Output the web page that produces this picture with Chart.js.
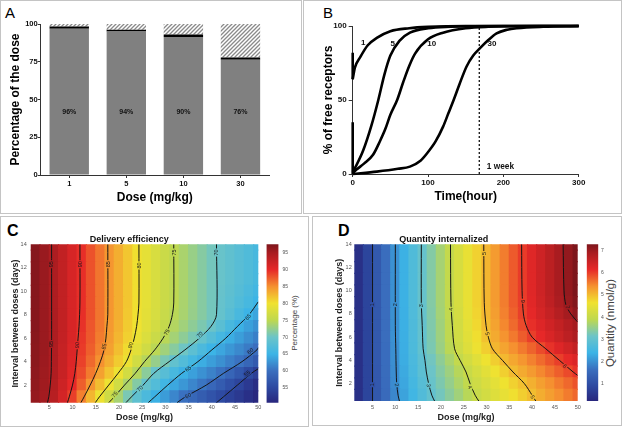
<!DOCTYPE html>
<html><head><meta charset="utf-8">
<script src="https://cdn.jsdelivr.net/npm/chart.js@4"></script>
<style>
body{margin:0;width:622px;height:430px;background:#fff;position:relative;overflow:hidden;font-family:'Liberation Sans',Arial,sans-serif}
.panel{position:absolute;border:1px solid #c4c4c4;box-sizing:border-box}
canvas{position:absolute}
.lt{position:absolute;font-size:15px;line-height:15px;color:#000}
.rot{position:absolute;white-space:nowrap;transform:translate(-50%,-50%) rotate(-90deg);color:#444}
</style></head>
<body>
<div class="panel" style="left:0;top:0;width:302px;height:214px"></div>
<div class="panel" style="left:303px;top:0;width:319px;height:214px"></div>
<div class="panel" style="left:0;top:216px;width:309px;height:211px"></div>
<div class="panel" style="left:312px;top:216px;width:310px;height:210px"></div>
<div class="lt" style="left:5px;top:5px">A</div>
<div class="lt" style="left:323px;top:5px">B</div>
<div class="lt" style="left:7px;top:223px;font-weight:bold;font-size:16px">C</div>
<div class="lt" style="left:338px;top:223px;font-weight:bold;font-size:16px">D</div>
<div class="rot" style="left:294px;top:323px;font-size:8px">Percentage (%)</div>
<div class="rot" style="left:610px;top:323px;font-size:11.5px">Quantity (nmol/g)</div>
<script>
const FONT = "'Liberation Sans', Arial, sans-serif";
Chart.defaults.font.family = FONT;
Chart.defaults.animation = false;

// ---------- Panel A data ----------
const doseCats = ['1','5','10','30'];
const internalizedPct = [96.9, 95.0, 91.4, 76.4];
const blackPct = [1.4, 1.2, 1.6, 1.4];
const hatchedPct = [1.7, 3.8, 7.0, 22.2];
const barText = ['96%','94%','90%','76%'];
const barTextLevel = 41.5;
const aTicks = [0,25,50,75,100];

// ---------- Panel B data ----------
const t1 = [0,3,10,20,32,50,75,100,150,300];
const r1 = [64,72,79,87,92,96.5,98.5,99.4,100,100];
const t5 = [0,5,14,25,34,42,50,62,76,100,130,200,300];
const r5 = [1.5,6,16,33,50,67,80,90,95.5,98.5,99.5,100,100];
const t10 = [0,5,15,27,36,43,50,59,67,75,83,100,120,150,180,250,300];
const r10 = [0.5,3,7,13,22,30,40,50,62,73,81.5,91,95.5,98.5,99.5,100,100];
const t30 = [0,32,60,76,90,98,110,120,127,134,142,151,160,169,180,191,205,218,253,300];
const r30 = [0,1.6,3.5,5,9,13.5,22,32,41,50,61,72.5,80,85,90.5,95,97.5,98.5,99.5,100];
const startSegA = [[0,82],[0,64]];
const startSegB = [[0,35],[0,0]];
const weekHour = 168;
const bTicksX = [0,100,200,300];
const bTicksY = [0,50,100];
const curveLabels = [{t:'1',x:14,y:88.7},{t:'5',x:53,y:88.3},{t:'10',x:105,y:88.3},{t:'30',x:185,y:88.3}];
const weekLabel = {t:'1 week',x:178,y:4.7};

// ---------- Panels C/D grid ----------
const doseCols = [2,4,6,8,10,12,14,16,18,20,22,24,26,28,30,32,34,36,38,40,42,44,46,48,50];
const dayRows = [1,2,3,4,5,6,7,8,9,10,11,12,13,14];
const heatTicksX = [5,10,15,20,25,30,35,40,45,50];
const heatTicksY = [2,4,6,8,10,12,14];

// Delivery efficiency (%) rows from 1 day (bottom) to 14 days (top)
const effTop = [97.0,95.9,94.6,93.0,91.3,89.7,88.0,86.3,84.7,83.2,81.7,80.2,78.9,77.5,76.2,74.9,73.8,72.7,71.6,70.5,69.6,68.8,67.9,67.1,66.3];
const efficiency = [
 [96.1,95.3,93.8,91.5,88.9,85.8,82.7,79.7,76.6,73.6,70.9,68.7,66.7,64.8,63.3,61.7,60.2,59.0,57.7,56.5,55.3,54.1,53.0,51.8,50.7],
 [96.4,95.5,94.2,92.1,90.0,87.4,84.8,82.3,79.7,76.8,74.0,71.5,69.2,67.4,65.5,64.1,62.9,61.7,60.5,59.1,57.6,56.1,54.6,53.1,51.6],
 [96.5,95.6,94.4,92.5,90.5,88.3,86.1,84.0,81.9,79.7,77.0,74.4,71.9,69.6,67.9,66.3,64.7,63.6,62.5,61.4,60.3,58.8,57.1,55.4,53.9],
 [96.7,95.7,94.5,92.6,90.7,88.8,86.9,85.0,83.2,81.4,79.5,76.9,74.5,72.6,70.8,69.0,67.4,65.8,64.5,63.4,62.4,61.3,60.3,58.9,57.4],
 [96.7,95.8,94.5,92.7,90.9,89.1,87.4,85.7,84.0,82.2,80.5,78.6,76.7,74.8,73.2,71.7,70.2,68.4,66.7,65.0,64.0,62.9,61.9,60.9,59.9],
 [96.8,95.8,94.6,92.8,91.1,89.3,87.7,86.0,84.3,82.7,81.1,79.4,77.8,76.2,74.7,73.4,72.1,70.8,69.4,67.6,65.9,64.5,63.4,62.3,61.2],
 [96.9,95.8,94.6,92.9,91.2,89.5,87.8,86.2,84.5,83.0,81.4,79.9,78.4,77.0,75.6,74.3,73.2,72.1,71.0,69.8,68.1,66.3,64.7,63.6,62.5],
 [96.9,95.8,94.6,93.0,91.3,89.7,88.0,86.3,84.7,83.2,81.6,80.1,78.7,77.4,76.0,74.7,73.7,72.6,71.6,70.5,69.3,67.9,66.4,65.0,63.9],
 [97.0,95.9,94.6,93.0,91.3,89.7,88.0,86.3,84.7,83.2,81.7,80.2,78.9,77.5,76.2,74.9,73.8,72.7,71.6,70.5,69.4,68.3,67.2,66.1,65.0],
 [97.0,95.9,94.6,93.0,91.3,89.7,88.0,86.3,84.7,83.2,81.7,80.2,78.9,77.5,76.2,74.9,73.8,72.7,71.6,70.5,69.5,68.6,67.6,66.7,65.7],
 effTop, effTop, effTop, effTop
];
const effRange = [50.6, 97.5];
const effBarTicks = [55,60,65,70,75,80,85,90,95];

// Quantity internalized (nmol/g)
const qTop = [0.4,0.8,1.2,1.6,2.0,2.35,2.7,3.05,3.36,3.67,3.98,4.26,4.53,4.81,5.07,5.31,5.55,5.80,6.03,6.25,6.47,6.69,6.91,7.11,7.3];
const quantity = [
 [0.4,0.8,1.18,1.54,1.89,2.19,2.46,2.73,3.0,3.21,3.42,3.63,3.84,4.04,4.20,4.36,4.52,4.68,4.84,5.0,5.14,5.28,5.42,5.56,5.7],
 [0.4,0.8,1.19,1.57,1.94,2.24,2.53,2.81,3.08,3.30,3.52,3.74,3.96,4.13,4.30,4.47,4.64,4.81,4.97,5.12,5.27,5.41,5.56,5.70,5.85],
 [0.4,0.8,1.19,1.58,1.96,2.27,2.58,2.88,3.14,3.37,3.60,3.83,4.05,4.24,4.44,4.63,4.83,5.02,5.17,5.32,5.47,5.62,5.77,5.92,6.08],
 [0.4,0.8,1.2,1.59,1.98,2.30,2.61,2.92,3.19,3.45,3.71,3.97,4.19,4.41,4.62,4.84,5.04,5.20,5.36,5.52,5.68,5.84,6.0,6.15,6.3],
 [0.4,0.8,1.2,1.59,1.98,2.32,2.65,2.98,3.28,3.57,3.86,4.12,4.36,4.60,4.84,5.06,5.23,5.40,5.57,5.74,5.91,6.09,6.26,6.43,6.6],
 [0.4,0.8,1.2,1.6,2.0,2.33,2.67,3.0,3.30,3.60,3.90,4.17,4.43,4.69,4.95,5.17,5.38,5.58,5.79,6.0,6.17,6.34,6.51,6.68,6.85],
 [0.4,0.8,1.2,1.6,2.0,2.34,2.68,3.02,3.32,3.62,3.92,4.20,4.47,4.74,5.01,5.24,5.47,5.69,5.92,6.11,6.28,6.45,6.61,6.78,6.95],
 [0.4,0.8,1.2,1.6,2.0,2.34,2.69,3.03,3.34,3.65,3.95,4.23,4.51,4.78,5.05,5.28,5.52,5.75,5.99,6.18,6.38,6.57,6.76,6.95,7.15],
 [0.4,0.8,1.2,1.6,2.0,2.35,2.7,3.05,3.36,3.67,3.98,4.26,4.53,4.81,5.07,5.31,5.55,5.80,6.01,6.23,6.44,6.66,6.87,7.07,7.25],
 qTop, qTop, qTop, qTop, qTop
];
const qRange = [0.2, 7.3];
const qBarTicks = [1,2,3,4,5,6,7];

// Contour lines [dose, days]
const effContours = [
 [[5.5,14],[5.5,9],[5.5,6],[5.45,4],[5.4,3],[5.2,2],[4.9,1],[4.6,0.5]],
 [[11.6,14],[11.6,9],[11.4,7],[11.2,6],[11.0,5],[10.8,4],[10.5,3],[10.0,2],[9.3,1],[8.9,0.5]],
 [[17.6,14],[17.6,8],[17.4,7],[17.2,6],[16.8,5],[16.0,4],[15.0,3],[13.8,2],[12.5,1],[11.8,0.5]],
 [[24.3,14],[24.3,9],[24.1,8],[23.8,7],[23.3,6],[22.6,5],[21.6,4],[19.8,3],[17.8,2],[15.8,1],[14.9,0.5]],
 [[31.8,14],[31.8,9],[31.5,8],[30.8,7],[29.5,6],[27.7,5],[25.5,4],[23.5,3],[21.2,2],[19.0,1],[17.8,0.5]],
 [[41,14],[41,8],[39.8,7],[37.3,6],[34.2,5],[30.8,4],[27.5,3],[25.2,2],[22.7,1],[21.5,0.5]],
 [[50,9.1],[48,8],[45.5,7],[43.0,6],[40.0,5],[37.0,4],[33.5,3],[30.5,2],[27.7,1],[26.3,0.5]],
 [[50,5.2],[49.7,5],[46.5,4],[42.5,3],[38.8,2],[34.3,1],[32.5,0.5]],
 [[50,3.4],[48.5,3],[45.5,2],[42.5,1],[41,0.5]]
];
const effLabels = [
 {t:'95',x:5.5,y:12.3,a:-90},{t:'95',x:5.45,y:5.5,a:-90},
 {t:'90',x:11.6,y:12.3,a:-90},{t:'90',x:11.0,y:5.4,a:-88},
 {t:'85',x:17.6,y:12.3,a:-90},{t:'85',x:16.8,y:5.3,a:-80},
 {t:'80',x:24.3,y:12.2,a:-90},{t:'80',x:22.5,y:5.4,a:-74},
 {t:'75',x:31.8,y:13.3,a:-90},{t:'75',x:30.3,y:6.5,a:-63},{t:'75',x:19.1,y:1.2,a:-47},
 {t:'70',x:41.0,y:13.3,a:-90},{t:'70',x:37.4,y:6.3,a:-45},{t:'70',x:24.5,y:1.7,a:-45},
 {t:'65',x:47.8,y:7.8,a:-45},{t:'65',x:34.9,y:3.4,a:-36},
 {t:'60',x:48.3,y:4.9,a:-38},{t:'60',x:34.9,y:1.1,a:-29},
 {t:'55',x:47.6,y:3.0,a:-38}
];
const qContours = [
 [[5,14],[5,0.5]],
 [[10,14],[10,7],[10.1,5],[10.2,3],[10.3,2],[10.6,1],[10.9,0.5]],
 [[15.7,14],[15.7,9],[15.9,7],[16.1,5],[16.5,4],[16.8,3],[17.3,2],[18.0,1],[18.6,0.5]],
 [[22.1,14],[22.2,9],[22.5,7],[23.0,5],[24.2,4],[25.5,3],[26.4,2],[27.5,1],[28.3,0.5]],
 [[29.4,14],[29.5,9],[29.9,7],[30.4,6],[31.3,5],[33.5,4],[35.8,3],[38.3,2],[40.0,1],[40.8,0.5]],
 [[37.7,14],[37.8,10],[38.1,8],[38.7,7],[40.0,6],[43.0,5],[46.0,4],[49.0,3],[50,2.7]],
 [[46.8,14],[47.0,10],[47.4,8.8],[48.5,8],[50,7.3]]
];
const qLabels = [
 {t:'1',x:5,y:8.8,a:-90},{t:'1',x:5,y:1.9,a:-90},
 {t:'2',x:10,y:8.8,a:-90},{t:'2',x:10.3,y:1.9,a:85},
 {t:'3',x:15.7,y:8.7,a:-90},{t:'3',x:17.3,y:1.85,a:79},
 {t:'4',x:22.3,y:8.4,a:-90},{t:'4',x:26.4,y:1.7,a:66},
 {t:'5',x:29.4,y:13.2,a:-90},{t:'5',x:30.2,y:6.3,a:75},{t:'5',x:40.1,y:0.85,a:60},
 {t:'6',x:38.0,y:9.1,a:-90},{t:'6',x:47.2,y:3.5,a:40},
 {t:'7',x:47.8,y:8.6,a:75}
];

// ---------- colour map (jet-like, muted) ----------
const cmapStops = [
 [0.0,[40,38,125]],[0.094,[45,72,160]],[0.2,[58,110,190]],[0.307,[60,180,230]],
 [0.414,[108,196,200]],[0.52,[190,216,80]],[0.627,[240,226,48]],[0.733,[245,145,48]],
 [0.84,[230,40,40]],[0.947,[168,28,32]],[1.0,[125,22,28]]
];
function cmap(v, lo, hi){
  let t=(v-lo)/(hi-lo); t=Math.max(0,Math.min(1,t));
  for(let i=1;i<cmapStops.length;i++){
    if(t<=cmapStops[i][0]){
      const [t0,c0]=cmapStops[i-1],[t1_,c1]=cmapStops[i];
      const f=(t-t0)/(t1_-t0);
      return 'rgb('+c0.map((c,k)=>Math.round(c+(c1[k]-c)*f)).join(',')+')';
    }
  }
  return 'rgb('+cmapStops[cmapStops.length-1][1].join(',')+')';
}

function mk(l,t,w,h){
  const c=document.createElement('canvas');
  c.width=w;c.height=h;c.style.left=l+'px';c.style.top=t+'px';
  c.style.width=w+'px';c.style.height=h+'px';
  document.body.appendChild(c);return c;
}
const noPlug = {legend:{display:false},tooltip:{enabled:false}};

// ---------- Panel A ----------
const tile=document.createElement('canvas');tile.width=4;tile.height=4;
{const g=tile.getContext('2d');g.fillStyle='#fff';g.fillRect(0,0,4,4);g.strokeStyle='#8a8a8a';g.lineWidth=1.3;
 g.beginPath();g.moveTo(-1,5);g.lineTo(5,-1);g.moveTo(-1,1);g.lineTo(1,-1);g.moveTo(3,5);g.lineTo(5,3);g.stroke();}
const hatchPattern=tile.getContext('2d').createPattern(tile,'repeat');

const aText={id:'aText',afterDatasetsDraw(ch){
  const {ctx,scales:{x,y}}=ch;ctx.save();ctx.font='bold 7px '+FONT;ctx.fillStyle='#111';
  ctx.textAlign='center';ctx.textBaseline='middle';
  barText.forEach((t,i)=>ctx.fillText(t,x.getPixelForValue(i),y.getPixelForValue(barTextLevel)));ctx.restore();}};

new Chart(mk(0,0,300,212),{
  type:'bar',
  data:{labels:doseCats,datasets:[
    {data:internalizedPct,backgroundColor:'#808080'},
    {data:blackPct,backgroundColor:'#000'},
    {data:hatchedPct,backgroundColor:hatchPattern}
  ]},
  options:{responsive:false,events:[],
    layout:{padding:{top:24,right:31,left:0,bottom:0},autoPadding:false},
    plugins:noPlug,
    datasets:{bar:{barPercentage:0.69,categoryPercentage:1,borderWidth:0}},
    scales:{
      x:{stacked:true,offset:true,grid:{offset:false,drawOnChartArea:false,tickLength:3,color:'#333'},
         border:{color:'#333'},ticks:{color:'#111',font:{size:7.5,weight:'bold'},padding:1},
         title:{display:true,text:'Dose (mg/kg)',color:'#000',font:{size:12,weight:'bold'},padding:{top:0,bottom:7.5}},
         afterFit:s=>{s.height=37;}},
      y:{stacked:true,min:0,max:100,afterBuildTicks:s=>{s.ticks=aTicks.map(v=>({value:v}));},
         grid:{drawOnChartArea:false,tickLength:3,color:'#333'},border:{color:'#333'},
         ticks:{color:'#111',font:{size:7.5,weight:'bold'},padding:0},
         title:{display:true,text:'Percentage of the dose',color:'#000',font:{size:12,weight:'bold'},padding:{top:8.5,bottom:0}},
         afterFit:s=>{s.width=40.7;}}
    }},
  plugins:[aText]
});

// ---------- Panel B ----------
const pts=(ts,vs)=>ts.map((t,i)=>({x:t,y:vs[i]}));
const seg=a=>a.map(([x,y])=>({x,y}));
const curveStyle={borderColor:'#000',borderWidth:2.6,pointRadius:0,cubicInterpolationMode:'monotone',fill:false,clip:4};
const bText={id:'bText',afterDatasetsDraw(ch){
  const {ctx,scales:{x,y}}=ch;ctx.save();ctx.fillStyle='#111';ctx.textBaseline='middle';
  ctx.font='bold 8px '+FONT;ctx.textAlign='center';
  curveLabels.forEach(l=>ctx.fillText(l.t,x.getPixelForValue(l.x),y.getPixelForValue(l.y)));
  ctx.textAlign='left';ctx.font='bold 8.3px '+FONT;
  ctx.fillText(weekLabel.t,x.getPixelForValue(weekLabel.x),y.getPixelForValue(weekLabel.y));
  ctx.restore();}};
new Chart(mk(302,0,320,212),{
  type:'line',
  data:{datasets:[
    {...curveStyle,data:pts(t1,r1)},
    {...curveStyle,data:pts(t5,r5)},
    {...curveStyle,data:pts(t10,r10)},
    {...curveStyle,data:pts(t30,r30)},
    {...curveStyle,cubicInterpolationMode:'default',tension:0,data:seg(startSegA)},
    {...curveStyle,cubicInterpolationMode:'default',tension:0,data:seg(startSegB)},
    {borderColor:'#000',borderWidth:1.2,borderDash:[2,2],pointRadius:0,tension:0,data:[{x:weekHour,y:0},{x:weekHour,y:100}]}
  ]},
  options:{responsive:false,events:[],
    layout:{padding:{top:26,right:43.3,left:0,bottom:0},autoPadding:false},
    plugins:noPlug,
    scales:{
      x:{type:'linear',min:0,max:300,afterBuildTicks:s=>{s.ticks=bTicksX.map(v=>({value:v}));},
         grid:{drawOnChartArea:false,tickLength:3,color:'#333'},border:{color:'#333'},
         ticks:{color:'#111',font:{size:8,weight:'bold'},padding:1},
         title:{display:true,text:'Time(hour)',color:'#000',font:{size:12,weight:'bold'},padding:{top:0,bottom:7.8}},
         afterFit:s=>{s.height=38;}},
      y:{min:0,max:100,afterBuildTicks:s=>{s.ticks=bTicksY.map(v=>({value:v}));},
         grid:{drawOnChartArea:false,tickLength:4,color:'#333'},border:{color:'#333'},
         ticks:{color:'#111',font:{size:8,weight:'bold'},padding:2},
         title:{display:true,text:'% of free receptors',color:'#000',font:{size:12,weight:'bold'},padding:{top:19.5,bottom:0}},
         afterFit:s=>{s.width=50.7;}}
    }},
  plugins:[bText]
});

// ---------- Heat maps ----------
function heatSets(vals,lo,hi){
  return dayRows.map((d,r)=>({
    type:'bar',order:2,grouped:false,barPercentage:1,categoryPercentage:1,inflateAmount:0.6,borderWidth:0,clip:0,
    data:doseCols.map(x=>({x,y:[d-0.5,d+0.5]})),
    backgroundColor:vals[r].map(v=>cmap(v,lo,hi))
  }));
}
function contourSets(cs){
  return cs.map(c=>({type:'line',order:0,data:c.map(([x,y])=>({x,y})),borderColor:'#151515',borderWidth:1,
    pointRadius:0,tension:0.3,fill:false,clip:0}));
}
const clabels={id:'clabels',afterDatasetsDraw(ch,args,opts){
  const {ctx,scales:{x,y},chartArea:ca}=ch;ctx.save();
  ctx.beginPath();ctx.rect(ca.left,ca.top,ca.width,ca.height);ctx.clip();
  ctx.font='5.5px '+FONT;ctx.textAlign='center';ctx.textBaseline='middle';
  opts.items.forEach(l=>{
    const px=x.getPixelForValue(l.x),py=y.getPixelForValue(l.y);
    ctx.save();ctx.translate(px,py);ctx.rotate(l.a*Math.PI/180);
    const w=ctx.measureText(l.t).width+2;
    ctx.fillStyle=cmap(parseFloat(l.t),opts.lo,opts.hi);ctx.fillRect(-w/2,-2.6,w,5.2);
    ctx.fillStyle='#1a1a1a';ctx.fillText(l.t,0,0.3);ctx.restore();
  });
  ctx.restore();}};

function heatChart(canvas,vals,range,contours,labels,title,ywidth,xheight,rightPad,yTitlePad,xTitlePad,yTickPad,xTickPad){
  return new Chart(canvas,{
    type:'bar',
    data:{datasets:[...contourSets(contours),...heatSets(vals,range[0],range[1])]},
    options:{responsive:false,events:[],
      layout:{padding:{top:0,right:rightPad,left:0,bottom:0},autoPadding:false},
      plugins:{...noPlug,title:{display:true,text:title,color:'#111',font:{size:9,weight:'bold',lineHeight:1},padding:{top:20.3,bottom:0}},
        clabels:{items:labels,lo:range[0],hi:range[1]}},
      scales:{
        x:{type:'linear',min:1,max:50,offset:false,afterBuildTicks:s=>{s.ticks=heatTicksX.map(v=>({value:v}));},
           grid:{display:false,offset:false,drawTicks:false,tickLength:0},border:{display:false},
           ticks:{color:'#555',font:{size:5.5},padding:xTickPad,maxRotation:0,autoSkip:false},
           title:{display:true,text:'Dose (mg/kg)',color:'#222',font:{size:9,weight:'bold'},padding:{top:0,bottom:xTitlePad}},
           afterFit:s=>{s.height=xheight;}},
        y:{type:'linear',min:0.5,max:14,afterBuildTicks:s=>{s.ticks=heatTicksY.map(v=>({value:v}));},
           grid:{display:false,drawTicks:false,tickLength:0},border:{display:false},
           ticks:{color:'#555',font:{size:5.5},padding:yTickPad,autoSkip:false},
           title:{display:true,text:'Interval between doses (days)',color:'#222',font:{size:9,weight:'bold'},padding:{top:yTitlePad,bottom:0}},
           afterFit:s=>{s.width=ywidth;}}
      }},
    plugins:[clabels]
  });
}
heatChart(mk(0,215,289,210),efficiency,effRange,effContours,effLabels,'Delivery efficiency',30.7,22.3,30.7,10.6,1.8,4,1.7);
heatChart(mk(310,215,312,210),quantity,qRange,qContours,qLabels,'Quantity internalized',44.3,24,44.3,24.6,2.1,2.6,3);

// ---------- colour bars ----------
function colorBar(canvas,range,ticks,leftPad,width,bottomPad,tickPad){
  return new Chart(canvas,{
    type:'bar',
    data:{labels:['cb'],datasets:[{data:[[range[0],range[1]]],barPercentage:1,categoryPercentage:1,borderWidth:0,
      backgroundColor:(c)=>{const ca=c.chart.chartArea;if(!ca)return '#888';
        const g=c.chart.ctx.createLinearGradient(0,ca.bottom,0,ca.top);
        cmapStops.forEach(([t,col])=>g.addColorStop(t,'rgb('+col.join(',')+')'));return g;}}]},
    options:{responsive:false,events:[],
      layout:{padding:{top:29.3,bottom:bottomPad,left:leftPad,right:0},autoPadding:false},
      plugins:noPlug,
      scales:{
        x:{display:false},
        y:{position:'right',min:range[0],max:range[1],afterBuildTicks:s=>{s.ticks=ticks.map(v=>({value:v}));},
           grid:{display:false,drawTicks:false,tickLength:0},border:{display:false},
           ticks:{color:'#555',font:{size:5},padding:tickPad,autoSkip:false},
           afterFit:s=>{s.width=width;}}
      }}
  });
}
colorBar(mk(262,215,46,210),effRange,effBarTicks,4.5,29.5,22.3,4);
colorBar(mk(582,215,40,210),qRange,qBarTicks,4.7,23.7,24,2.7);
</script>
</body></html>
